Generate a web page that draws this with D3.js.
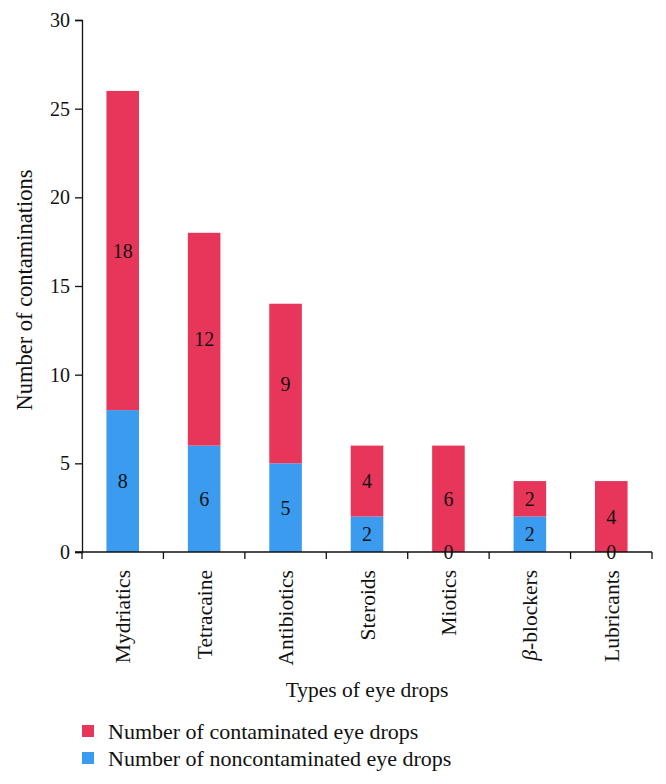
<!DOCTYPE html>
<html><head><meta charset="utf-8">
<script src="https://cdn.jsdelivr.net/npm/d3@7"></script>
<style>body{margin:0;background:#fff}text{font-family:"Liberation Serif","DejaVu Serif",serif;fill:#111}</style>
</head><body><svg id="c" width="666" height="784"></svg>
<script>
const categories = ["Mydriatics","Tetracaine","Antibiotics","Steroids","Miotics","β-blockers","Lubricants"];
const noncontaminated = [8,6,5,2,0,2,0];
const contaminated = [18,12,9,4,6,2,4];
const yTicks = [0,5,10,15,20,25,30];
const seriesNames = ["Number of contaminated eye drops","Number of noncontaminated eye drops"];
const colors = {contaminated:"#E8365A", noncontaminated:"#3A9BEF"};

const svg = d3.select("#c");
const m = {l:82, r:14, t:20, b:232};
const W = 666, H = 784;
const x = d3.scaleBand().domain(categories).range([m.l, W-m.r]).paddingInner(0.6).paddingOuter(0.3);
const y = d3.scaleLinear().domain([0,30]).range([H-m.b, m.t]);

const data = categories.map((c,i)=>({c, n:noncontaminated[i], k:contaminated[i]}));
const g = svg.append("g");
g.selectAll(".nb").data(data).join("rect")
  .attr("x", d=>x(d.c)).attr("width", x.bandwidth())
  .attr("y", d=>y(d.n)).attr("height", d=>y(0)-y(d.n))
  .attr("fill", colors.noncontaminated);
g.selectAll(".kb").data(data).join("rect")
  .attr("x", d=>x(d.c)).attr("width", x.bandwidth())
  .attr("y", d=>y(d.n+d.k)).attr("height", d=>y(d.n)-y(d.n+d.k))
  .attr("fill", colors.contaminated);

const lab = (v, mid, c)=> g.append("text").attr("x", x(c)+x.bandwidth()/2).attr("y", y(mid))
  .attr("dy","0.35em").attr("text-anchor","middle").style("font-size","20px").text(v);
data.forEach(d=>{ lab(d.n, d.n/2, d.c); lab(d.k, d.n + d.k/2, d.c); });

const ya = svg.append("g").attr("transform",`translate(${m.l},0)`)
  .call(d3.axisLeft(y).tickValues(yTicks).tickSize(7).tickPadding(5));
ya.selectAll("text").style("font-size","20px").style("font-family","Liberation Serif, serif");
ya.selectAll("line,path").attr("stroke","#111").attr("stroke-width",1.3);

const xa = svg.append("g").attr("transform",`translate(0,${y(0)})`);
xa.append("line").attr("x1", m.l-7).attr("x2", W-m.r).attr("stroke","#111").attr("stroke-width",1.3);
const step = x.step();
const bounds = d3.range(categories.length+1).map(i=> x(categories[0]) - step*0.3 + i*step);
xa.selectAll(".t").data(bounds).join("line").attr("x1",d=>d).attr("x2",d=>d).attr("y1",0).attr("y2",7)
  .attr("stroke","#111").attr("stroke-width",1.3);
categories.forEach(c=>{
  const cx = x(c)+x.bandwidth()/2;
  const t = xa.append("text").attr("transform",`translate(${cx},${18}) rotate(-90)`)
    .attr("text-anchor","end").attr("dy","0.35em").style("font-size","21.5px");
  if(c.startsWith("β")){ t.append("tspan").style("font-style","italic").text("β"); t.append("tspan").text(c.slice(1)); }
  else t.text(c);
});

svg.append("text").attr("transform",`translate(24,${(y(0)+y(30))/2 + 4}) rotate(-90)`)
  .attr("text-anchor","middle").attr("dy","0.35em").style("font-size","22.5px").text("Number of contaminations");
svg.append("text").attr("x", 367).attr("y", 697).attr("text-anchor","middle")
  .style("font-size","21.5px").text("Types of eye drops");

const lg = svg.append("g");
[[seriesNames[0],colors.contaminated,731],[seriesNames[1],colors.noncontaminated,758]].forEach(([n,col,cy])=>{
  lg.append("rect").attr("x",82).attr("y",cy-6).attr("width",12).attr("height",12).attr("fill",col);
  lg.append("text").attr("x",108).attr("y",cy).attr("dy","0.35em").style("font-size","22px").text(n);
});
</script></body></html>
